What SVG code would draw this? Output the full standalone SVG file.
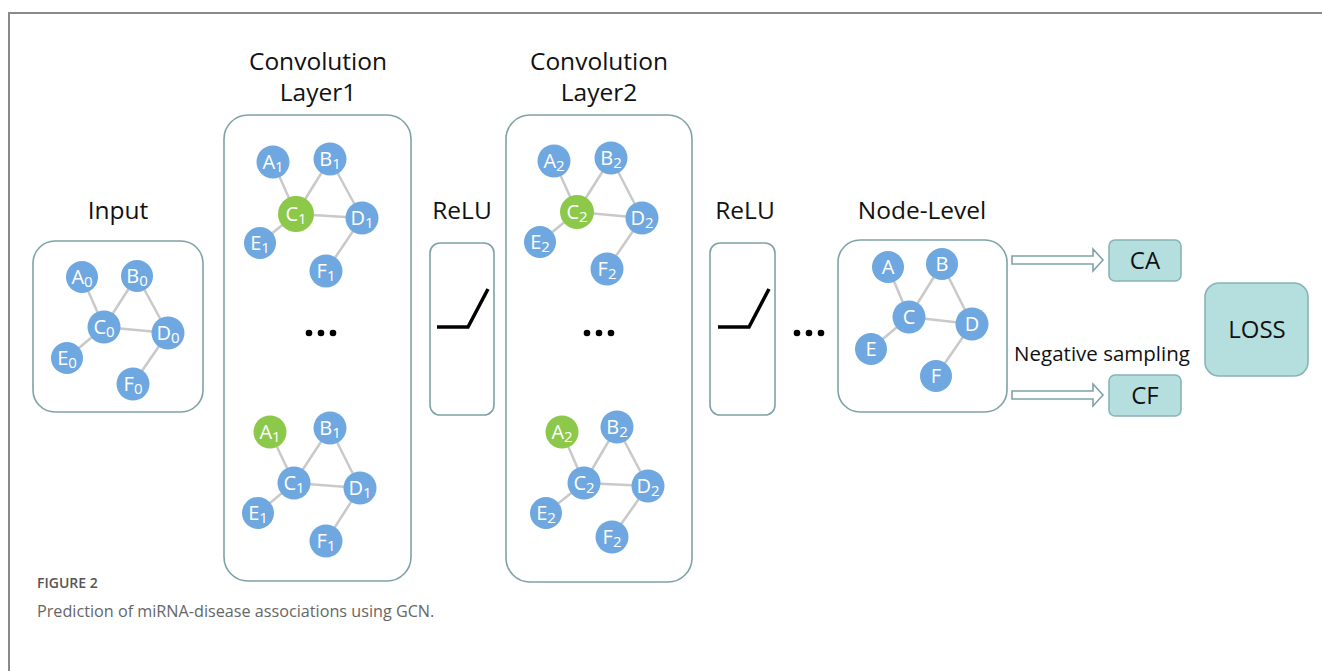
<svg xmlns="http://www.w3.org/2000/svg" width="1322" height="671" viewBox="0 0 1322 671">
<style>
text{font-family:"Open Sans","Noto Sans","DejaVu Sans",sans-serif}
.frame{fill:none;stroke:#8a8a8a;stroke-width:2}
.box{fill:#fff;stroke:#7fa2a6;stroke-width:1.6}
.tbox{fill:#b5dfdf;stroke:#88b4b4;stroke-width:1.6}
.title{font-size:24.5px;fill:#111;text-anchor:middle}
.edge{stroke:#c9c9c9;stroke-width:2.5}
.nb{fill:#6fa8e0}
.ng{fill:#8cc84a}
.nl{font-size:20px;fill:#fff;text-anchor:middle}
.sub{font-size:15px}
.relu{fill:none;stroke:#000;stroke-width:3.5}
.dot{fill:#000}
.arrow{fill:#fff;stroke:#7fa2a6;stroke-width:1.6}
.lbl{font-size:24px;fill:#111;text-anchor:middle}
</style>
<rect x="0" y="0" width="1322" height="671" fill="#fff"/>
<path class="frame" d="M9,672 V13 H1323"/>

<g id="titles">
<text class="title" x="118" y="219">Input</text>
<text class="title" x="318" y="70">Convolution</text>
<text class="title" x="318" y="101">Layer1</text>
<text class="title" x="462" y="219">ReLU</text>
<text class="title" x="599" y="70">Convolution</text>
<text class="title" x="599" y="101">Layer2</text>
<text class="title" x="745" y="219">ReLU</text>
<text class="title" x="922" y="219">Node-Level</text>
</g>

<g id="boxes">
<rect id="input-box" class="box" x="33" y="241" width="170" height="171" rx="22"/>
<rect id="layer1-box" class="box" x="224" y="115" width="187" height="466" rx="24"/>
<rect id="relu1-box" class="box" x="430" y="243" width="64" height="172" rx="10"/>
<rect id="layer2-box" class="box" x="506" y="115" width="186" height="467" rx="24"/>
<rect id="relu2-box" class="box" x="710" y="243" width="65" height="172" rx="10"/>
<rect id="nodelevel-box" class="box" x="838" y="240" width="169" height="172" rx="22"/>
</g>

<g id="connectors">
<path class="edge" d="M82,277 L104,327 M137,276 L104,327 M137,276 L168,333 M104,327 L168,333 M104,327 L67,358 M168,333 L133,384"/>
<path class="edge" d="M273,162 L296,214 M330,159 L296,214 M330,159 L362,218 M296,214 L362,218 M296,214 L260,243 M362,218 L326,271"/>
<path class="edge" d="M270,432 L294,483 M330,428 L294,483 M330,428 L360,488 M294,483 L360,488 M294,483 L258,513 M360,488 L326,541"/>
<path class="edge" d="M554,161 L577,212 M611,158 L577,212 M611,158 L642,218 M577,212 L642,218 M577,212 L540,242 M642,218 L607,269"/>
<path class="edge" d="M562,432 L584,483 M617,427 L584,483 M617,427 L648,486 M584,483 L648,486 M584,483 L546,513 M648,486 L612,537"/>
<path class="edge" d="M888,267 L909,317 M942,264 L909,317 M942,264 L972,324 M909,317 L972,324 M909,317 L871,349 M972,324 L936,376"/>
<path class="arrow" d="M1012,256 H1093 V249 L1103,260 L1093,271 V264 H1012 Z"/>
<path class="arrow" d="M1012,391 H1093 V384 L1103,395 L1093,406 V399 H1012 Z"/>
</g>

<g id="input-nodes">
<g id="A0"><circle class="nb" cx="82" cy="277" r="16"/><text class="nl" x="82" y="284">A<tspan class="sub" dy="3">0</tspan></text></g>
<g id="B0"><circle class="nb" cx="137" cy="276" r="16"/><text class="nl" x="137" y="283">B<tspan class="sub" dy="3">0</tspan></text></g>
<g id="C0"><circle class="nb" cx="104" cy="327" r="16.5"/><text class="nl" x="104" y="334">C<tspan class="sub" dy="3">0</tspan></text></g>
<g id="D0"><circle class="nb" cx="168" cy="333" r="16.5"/><text class="nl" x="168" y="340">D<tspan class="sub" dy="3">0</tspan></text></g>
<g id="E0"><circle class="nb" cx="67" cy="358" r="16"/><text class="nl" x="67" y="365">E<tspan class="sub" dy="3">0</tspan></text></g>
<g id="F0"><circle class="nb" cx="133" cy="384" r="16.5"/><text class="nl" x="133" y="391">F<tspan class="sub" dy="3">0</tspan></text></g>
</g>

<g id="layer1-top">
<g id="A1a"><circle class="nb" cx="273" cy="162" r="16.5"/><text class="nl" x="273" y="169">A<tspan class="sub" dy="3">1</tspan></text></g>
<g id="B1a"><circle class="nb" cx="330" cy="159" r="16.5"/><text class="nl" x="330" y="166">B<tspan class="sub" dy="3">1</tspan></text></g>
<g id="C1a"><circle class="ng" cx="296" cy="214" r="18"/><text class="nl" x="296" y="221">C<tspan class="sub" dy="3">1</tspan></text></g>
<g id="D1a"><circle class="nb" cx="362" cy="218" r="16.5"/><text class="nl" x="362" y="225">D<tspan class="sub" dy="3">1</tspan></text></g>
<g id="E1a"><circle class="nb" cx="260" cy="243" r="16"/><text class="nl" x="260" y="250">E<tspan class="sub" dy="3">1</tspan></text></g>
<g id="F1a"><circle class="nb" cx="326" cy="271" r="16.5"/><text class="nl" x="326" y="278">F<tspan class="sub" dy="3">1</tspan></text></g>
</g>

<g id="layer1-bottom">
<g id="A1b"><circle class="ng" cx="270" cy="432" r="16.5"/><text class="nl" x="270" y="439">A<tspan class="sub" dy="3">1</tspan></text></g>
<g id="B1b"><circle class="nb" cx="330" cy="428" r="16.5"/><text class="nl" x="330" y="435">B<tspan class="sub" dy="3">1</tspan></text></g>
<g id="C1b"><circle class="nb" cx="294" cy="483" r="16.5"/><text class="nl" x="294" y="490">C<tspan class="sub" dy="3">1</tspan></text></g>
<g id="D1b"><circle class="nb" cx="360" cy="488" r="16.5"/><text class="nl" x="360" y="495">D<tspan class="sub" dy="3">1</tspan></text></g>
<g id="E1b"><circle class="nb" cx="258" cy="513" r="16"/><text class="nl" x="258" y="520">E<tspan class="sub" dy="3">1</tspan></text></g>
<g id="F1b"><circle class="nb" cx="326" cy="541" r="16.5"/><text class="nl" x="326" y="548">F<tspan class="sub" dy="3">1</tspan></text></g>
</g>

<g id="layer2-top">
<g id="A2a"><circle class="nb" cx="554" cy="161" r="16.5"/><text class="nl" x="554" y="168">A<tspan class="sub" dy="3">2</tspan></text></g>
<g id="B2a"><circle class="nb" cx="611" cy="158" r="16.5"/><text class="nl" x="611" y="165">B<tspan class="sub" dy="3">2</tspan></text></g>
<g id="C2a"><circle class="ng" cx="577" cy="212" r="17"/><text class="nl" x="577" y="219">C<tspan class="sub" dy="3">2</tspan></text></g>
<g id="D2a"><circle class="nb" cx="642" cy="218" r="16.5"/><text class="nl" x="642" y="225">D<tspan class="sub" dy="3">2</tspan></text></g>
<g id="E2a"><circle class="nb" cx="540" cy="242" r="16"/><text class="nl" x="540" y="249">E<tspan class="sub" dy="3">2</tspan></text></g>
<g id="F2a"><circle class="nb" cx="607" cy="269" r="16.5"/><text class="nl" x="607" y="276">F<tspan class="sub" dy="3">2</tspan></text></g>
</g>

<g id="layer2-bottom">
<g id="A2b"><circle class="ng" cx="562" cy="432" r="16.5"/><text class="nl" x="562" y="439">A<tspan class="sub" dy="3">2</tspan></text></g>
<g id="B2b"><circle class="nb" cx="617" cy="427" r="16.5"/><text class="nl" x="617" y="434">B<tspan class="sub" dy="3">2</tspan></text></g>
<g id="C2b"><circle class="nb" cx="584" cy="483" r="16.5"/><text class="nl" x="584" y="490">C<tspan class="sub" dy="3">2</tspan></text></g>
<g id="D2b"><circle class="nb" cx="648" cy="486" r="16.5"/><text class="nl" x="648" y="493">D<tspan class="sub" dy="3">2</tspan></text></g>
<g id="E2b"><circle class="nb" cx="546" cy="513" r="16"/><text class="nl" x="546" y="520">E<tspan class="sub" dy="3">2</tspan></text></g>
<g id="F2b"><circle class="nb" cx="612" cy="537" r="16.5"/><text class="nl" x="612" y="544">F<tspan class="sub" dy="3">2</tspan></text></g>
</g>

<g id="nodelevel-nodes">
<g id="A"><circle class="nb" cx="888" cy="267" r="16"/><text class="nl" x="888" y="274">A</text></g>
<g id="B"><circle class="nb" cx="942" cy="264" r="16"/><text class="nl" x="942" y="271">B</text></g>
<g id="C"><circle class="nb" cx="909" cy="317" r="16.5"/><text class="nl" x="909" y="324">C</text></g>
<g id="D"><circle class="nb" cx="972" cy="324" r="16.5"/><text class="nl" x="972" y="331">D</text></g>
<g id="E"><circle class="nb" cx="871" cy="349" r="16"/><text class="nl" x="871" y="356">E</text></g>
<g id="F"><circle class="nb" cx="936" cy="376" r="16"/><text class="nl" x="936" y="383">F</text></g>
</g>

<g id="ellipses">
<circle class="dot" cx="309" cy="333" r="3.3"/><circle class="dot" cx="321" cy="333" r="3.3"/><circle class="dot" cx="333" cy="333" r="3.3"/>
<circle class="dot" cx="587" cy="333" r="3.3"/><circle class="dot" cx="599" cy="333" r="3.3"/><circle class="dot" cx="611" cy="333" r="3.3"/>
<circle class="dot" cx="797" cy="333" r="3.3"/><circle class="dot" cx="809" cy="333" r="3.3"/><circle class="dot" cx="821" cy="333" r="3.3"/>
</g>

<g id="relu1"><path class="relu" d="M437,327 H468 L488,289"/></g>
<g id="relu2"><path class="relu" d="M718,327 H749 L769,289"/></g>

<g id="CA"><rect class="tbox" x="1109" y="240" width="72" height="41" rx="6"/><text class="lbl" x="1145" y="269">CA</text></g>
<g id="CF"><rect class="tbox" x="1109" y="375" width="72" height="41" rx="6"/><text class="lbl" x="1145" y="404">CF</text></g>
<g id="LOSS"><rect class="tbox" x="1205" y="283" width="103" height="93" rx="14"/><text class="lbl" x="1257" y="338">LOSS</text></g>
<text x="1102" y="361" style="font-size:20.5px;fill:#111;text-anchor:middle">Negative sampling</text>

<g id="caption">
<text x="37" y="588" style="font-size:14px;font-weight:600;fill:#555">FIGURE 2</text>
<text x="37" y="617" style="font-size:16.2px;fill:#666">Prediction of miRNA-disease associations using GCN.</text>
</g>
</svg>
